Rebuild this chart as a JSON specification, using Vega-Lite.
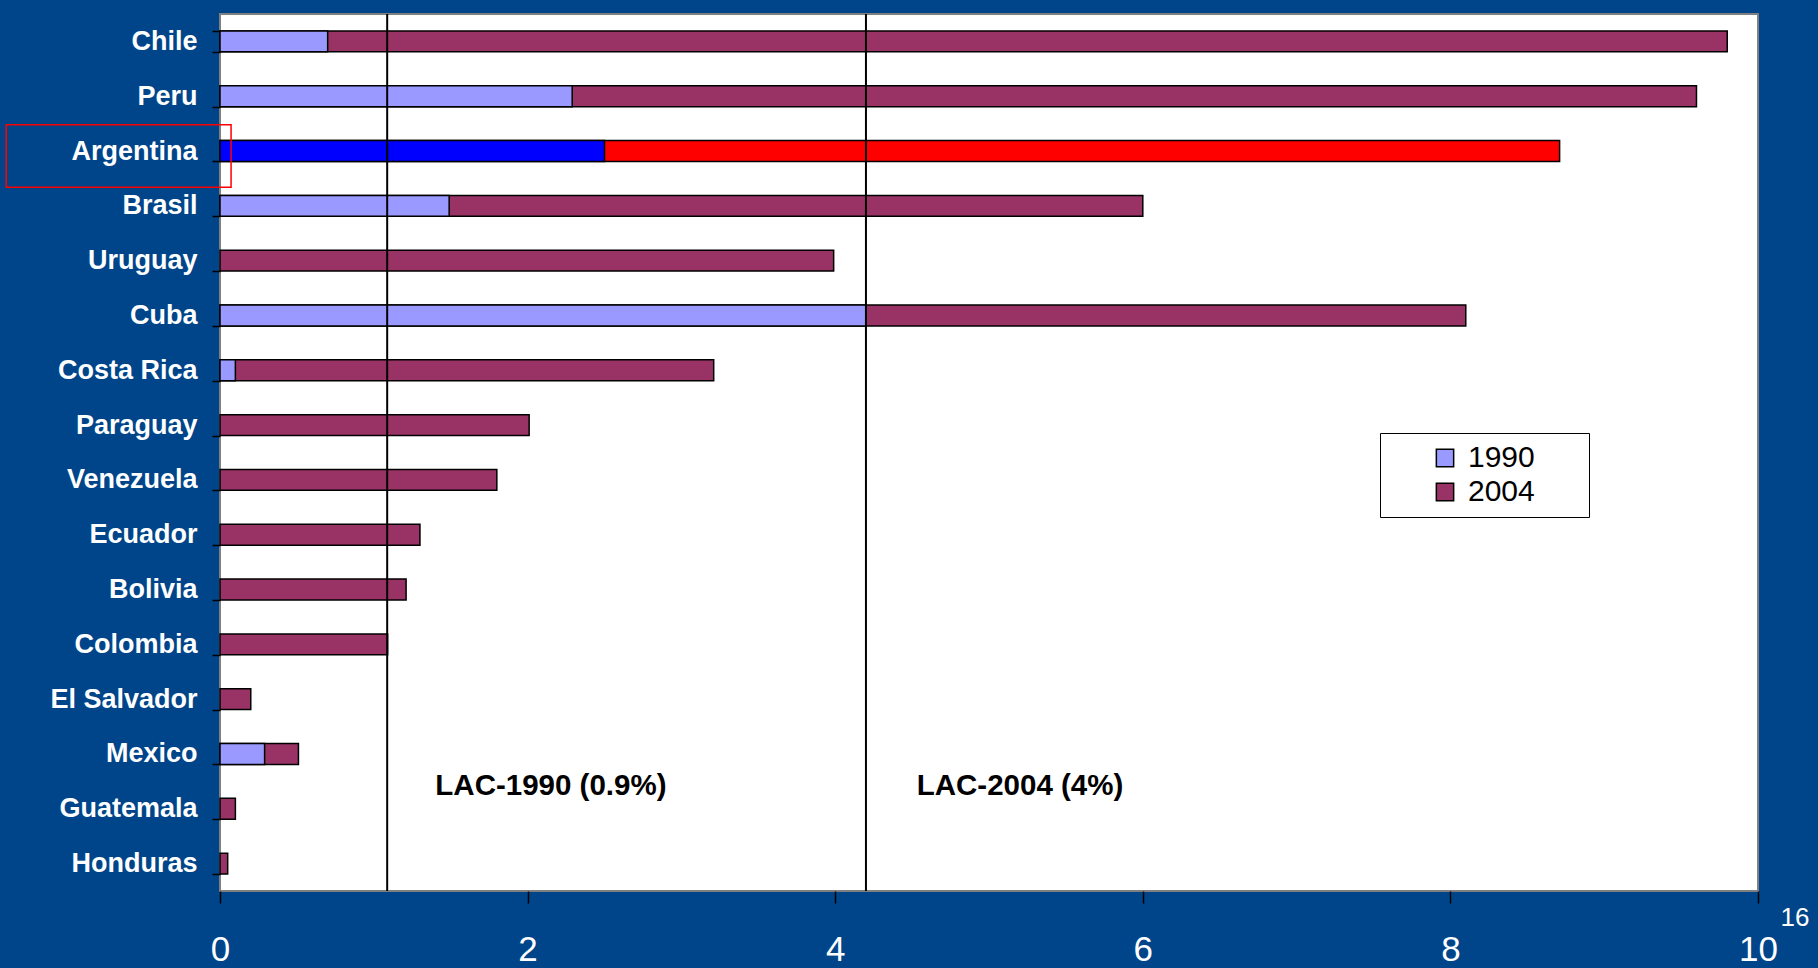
{
  "$schema": "https://vega.github.io/schema/vega-lite/v6.json",
  "width": 1538,
  "height": 877,
  "autosize": {"type": "none"},
  "padding": {"left": 220, "top": 14, "right": 60, "bottom": 77},
  "background": "#00458A",
  "config": {
    "font": "Liberation Sans",
    "view": {"fill": "white", "stroke": "#808080", "strokeWidth": 2},
    "axisY": {"labelColor": "white", "labelFontSize": 27, "labelFontWeight": "bold", "tickColor": "black", "tickSize": 8, "tickWidth": 1.5, "domain": false, "grid": false, "labelPadding": 15, "tickBand": "extent"},
    "axisX": {"labelColor": "white", "labelFontSize": 35, "labelBaseline": "alphabetic", "tickColor": "black", "tickSize": 12, "tickWidth": 1.5, "domain": false, "grid": false, "labelPadding": 57, "labelFlush": false, "labelOverlap": false, "format": "d"},
    "legend": {"orient": "none", "legendX": 1160, "legendY": 419, "fillColor": "white", "strokeColor": "black", "padding": 10, "symbolType": "square", "symbolSize": 300, "symbolStrokeColor": "black", "symbolStrokeWidth": 1.5, "symbolOffset": 40, "labelFontSize": 30, "labelColor": "black", "labelOffset": 8, "rowPadding": 4}
  },
  "data": {
    "values": [
      {"country": "Chile", "year": "2004", "value": 9.80},
      {"country": "Peru", "year": "2004", "value": 9.60},
      {"country": "Argentina", "year": "2004", "value": 8.71},
      {"country": "Brasil", "year": "2004", "value": 6.00},
      {"country": "Uruguay", "year": "2004", "value": 3.99},
      {"country": "Cuba", "year": "2004", "value": 8.10},
      {"country": "Costa Rica", "year": "2004", "value": 3.21},
      {"country": "Paraguay", "year": "2004", "value": 2.01},
      {"country": "Venezuela", "year": "2004", "value": 1.80},
      {"country": "Ecuador", "year": "2004", "value": 1.30},
      {"country": "Bolivia", "year": "2004", "value": 1.21},
      {"country": "Colombia", "year": "2004", "value": 1.09},
      {"country": "El Salvador", "year": "2004", "value": 0.20},
      {"country": "Mexico", "year": "2004", "value": 0.51},
      {"country": "Guatemala", "year": "2004", "value": 0.10},
      {"country": "Honduras", "year": "2004", "value": 0.05},
      {"country": "Chile", "year": "1990", "value": 0.70},
      {"country": "Peru", "year": "1990", "value": 2.29},
      {"country": "Argentina", "year": "1990", "value": 2.50},
      {"country": "Brasil", "year": "1990", "value": 1.49},
      {"country": "Cuba", "year": "1990", "value": 4.20},
      {"country": "Costa Rica", "year": "1990", "value": 0.10},
      {"country": "Mexico", "year": "1990", "value": 0.29}
    ]
  },
  "layer": [
    {
      "transform": [{"filter": "datum.year === '2004'"}],
      "mark": {"type": "bar", "stroke": "black", "strokeWidth": 1.5},
      "encoding": {
        "y": {"field": "country", "type": "nominal", "title": null,
          "sort": ["Chile","Peru","Argentina","Brasil","Uruguay","Cuba","Costa Rica","Paraguay","Venezuela","Ecuador","Bolivia","Colombia","El Salvador","Mexico","Guatemala","Honduras"],
          "scale": {"paddingInner": 0.62, "paddingOuter": 0.31}},
        "x": {"field": "value", "type": "quantitative", "title": null,
          "scale": {"domain": [0, 10], "nice": false},
          "axis": {"values": [0, 2, 4, 6, 8, 10]}},
        "color": {"field": "year", "type": "nominal", "title": null,
          "scale": {"domain": ["1990", "2004"], "range": ["#9999FF", "#993366"]},
          "legend": {"labelExpr": "datum.label + '\u2800\u2800'"},
          "condition": {"test": "datum.country === 'Argentina'", "value": "#FF0000"}}
      }
    },
    {
      "transform": [{"filter": "datum.year === '1990'"}],
      "mark": {"type": "bar", "stroke": "black", "strokeWidth": 1.5},
      "encoding": {
        "y": {"field": "country", "type": "nominal", "title": null,
          "sort": ["Chile","Peru","Argentina","Brasil","Uruguay","Cuba","Costa Rica","Paraguay","Venezuela","Ecuador","Bolivia","Colombia","El Salvador","Mexico","Guatemala","Honduras"]},
        "x": {"field": "value", "type": "quantitative", "title": null},
        "color": {"field": "year", "type": "nominal", "title": null,
          "legend": {"labelExpr": "datum.label + '\u2800\u2800'"},
          "condition": {"test": "datum.country === 'Argentina'", "value": "#0000FF"}}
      }
    },
    {
      "data": {"values": [{}]},
      "mark": {"type": "rule", "color": "black", "strokeWidth": 2},
      "encoding": {"x": {"datum": 1.087, "type": "quantitative"}}
    },
    {
      "data": {"values": [{}]},
      "mark": {"type": "rule", "color": "black", "strokeWidth": 2},
      "encoding": {"x": {"datum": 4.2, "type": "quantitative"}}
    },
    {
      "data": {"values": [{}]},
      "mark": {"type": "text", "text": "LAC-1990 (0.9%)", "align": "left", "baseline": "middle", "fontSize": 29.5, "fontWeight": "bold", "color": "black", "dy": -23},
      "encoding": {"x": {"datum": 1.40, "type": "quantitative"}, "y": {"datum": "Guatemala", "type": "nominal"}}
    },
    {
      "data": {"values": [{}]},
      "mark": {"type": "text", "text": "LAC-2004 (4%)", "align": "left", "baseline": "middle", "fontSize": 29.5, "fontWeight": "bold", "color": "black", "dy": -23},
      "encoding": {"x": {"datum": 4.53, "type": "quantitative"}, "y": {"datum": "Guatemala", "type": "nominal"}}
    },
    {
      "data": {"values": [{}]},
      "mark": {"type": "rect", "filled": false, "stroke": "#FF0000", "strokeWidth": 1.5, "height": {"band": 3}, "yOffset": 5},
      "encoding": {"x": {"datum": -1.39, "type": "quantitative"}, "x2": {"datum": 0.072}, "y": {"datum": "Argentina", "type": "nominal"}}
    },
    {
      "data": {"values": [{}]},
      "mark": {"type": "text", "text": "16", "align": "center", "baseline": "middle", "fontSize": 26, "color": "white", "dx": 37, "dy": 54},
      "encoding": {"x": {"datum": 10, "type": "quantitative"}, "y": {"datum": "Honduras", "type": "nominal"}}
    }
  ]
}
